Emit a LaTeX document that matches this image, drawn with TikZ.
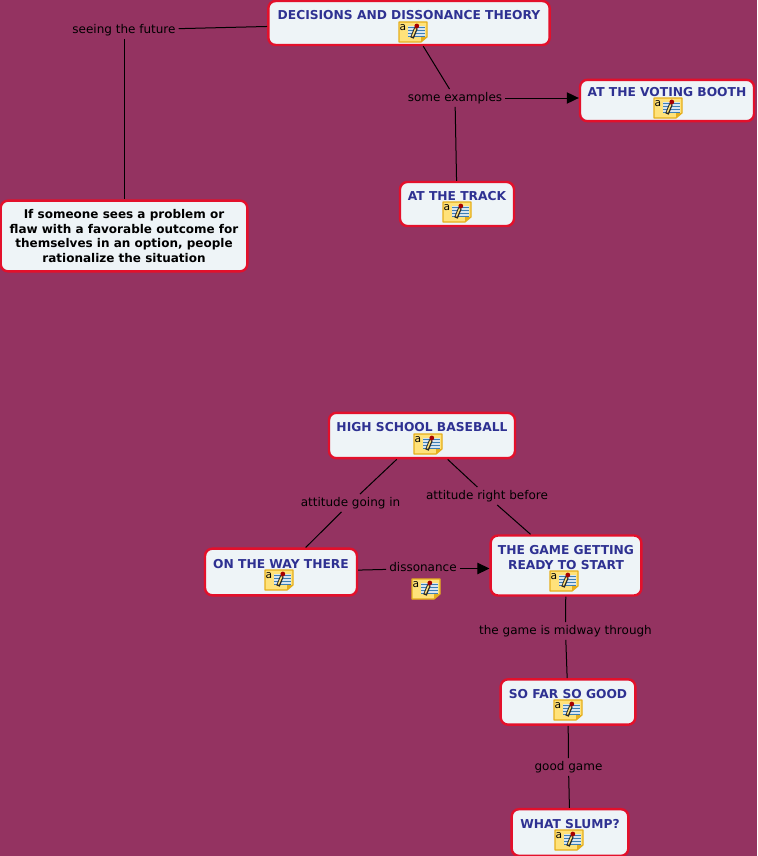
\documentclass[tikz,border=0pt]{standalone}
\usepackage{fontspec}
\setmainfont{DejaVu Sans}
\usetikzlibrary{arrows.meta}
\definecolor{bgc}{HTML}{943361}
\definecolor{boxfill}{HTML}{EEF4F7}
\definecolor{boxline}{HTML}{E3102B}
\definecolor{titlec}{HTML}{2E3192}
\definecolor{noteY}{HTML}{FFE27A}
\definecolor{noteE}{HTML}{E5AE1C}
\definecolor{noteB}{HTML}{3D7FB5}
\newcommand{\iconline}{\\[-1pt]\rule{0pt}{12pt}}
\tikzset{
  x=0.75pt,y=-0.75pt,
  concept/.style={draw=boxline,fill=boxfill,line width=1.8pt,rounded corners=5.5pt,align=center,inner sep=0pt,font=\bfseries\fontsize{9.2}{10.9}\selectfont},
  title/.style={concept,text=titlec},
  plain/.style={concept,text=black,font=\bfseries\fontsize{9}{10.9}\selectfont},
  link/.style={inner sep=2.2pt,text=black,font=\fontsize{9}{10}\selectfont,text height=6.8pt,text depth=1.8pt},
  conn/.style={draw=black,line width=0.75pt},
  arrow/.style={conn,-{Triangle[length=9pt,width=8.5pt]}},
  note/.pic={
    \fill[noteY] (-14,-10) -- (14,-10) -- (14,5) -- (8,10) -- (-14,10) -- cycle;
    \fill[noteE] (14,5) -- (8,5) -- (8,10) -- cycle;
    \draw[noteE,line width=0.9pt,line join=round] (-14,-10) -- (14,-10) -- (14,5) -- (8,10) -- (-14,10) -- cycle;
    \fill[white!80!noteB] (-5,-6) rectangle (12,5);
    \foreach \yy in {-5,-2,1,4}{\draw[noteB,line width=0.7pt] (-5,\yy) -- (12,\yy);}
    \draw[black!85,line width=2.8pt] (-1,6) -- (3,-4);
    \draw[noteY,line width=1.1pt] (-0.7,4.5) -- (2.7,-3.5);
    \fill[red!65!black] (3.8,-6) circle (2.4);
    \node[inner sep=0pt,font=\fontsize{8}{8}\selectfont,text=black] at (-10,-4.5) {a};
  }
}
\begin{document}
\begin{tikzpicture}
\useasboundingbox (0,0) rectangle (757,856);
\fill[bgc] (0,0) rectangle (757,856);
% concepts
\node[title,minimum width=211pt,minimum height=33pt] (dec) at (409,23) {DECISIONS AND DISSONANCE THEORY\iconline};
\node[title,minimum width=130.5pt,minimum height=31pt] (vote) at (667,100.5) {AT THE VOTING BOOTH\iconline};
\node[title,minimum width=85.5pt,minimum height=33pt] (track) at (457,204) {AT THE TRACK\iconline};
\node[plain,minimum width=185pt,minimum height=53pt] (flaw) at (124,236) {If someone sees a problem or\\flaw with a favorable outcome for\\themselves in an option, people\\rationalize the situation};
\node[title,minimum width=139.5pt,minimum height=34pt] (hs) at (422,435.5) {HIGH SCHOOL BASEBALL\iconline};
\node[title,minimum width=114pt,minimum height=35pt] (way) at (281,572) {ON THE WAY THERE\iconline};
\node[title,minimum width=113pt,minimum height=45pt] (game) at (566,565.5) {THE GAME GETTING\\READY TO START\iconline};
\node[title,minimum width=101pt,minimum height=34pt] (sofar) at (568,702) {SO FAR SO GOOD\iconline};
\node[title,minimum width=87.5pt,minimum height=35pt] (slump) at (570,832.5) {WHAT SLUMP?\iconline};
% linking phrases
\node[link] (seeing) at (124,30) {seeing the future};
\node[link] (examples) at (455,98) {some examples};
\node[link] (going) at (350.5,503) {attitude going in};
\node[link] (before) at (487,496) {attitude right before};
\node[link] (diss) at (423,568.5) {dissonance};
\node[link] (midway) at (565.5,631) {the game is midway through};
\node[link] (goodg) at (568.5,767) {good game};
% connectors
\draw[conn] (dec) -- (seeing);
\draw[conn] (seeing) -- (flaw);
\draw[conn] (dec) -- (examples);
\draw[arrow] (examples) -- (examples -| vote.west);
\draw[conn] (examples) -- (track);
\draw[conn] (hs) -- (going);
\draw[conn] (going) -- (way);
\draw[conn] (hs) -- (before);
\draw[conn] (before) -- (game);
\draw[conn] (way) -- (diss);
\draw[arrow] (diss) -- (diss -| game.west);
\draw[conn] (game) -- (midway);
\draw[conn] (midway) -- (sofar);
\draw[conn] (sofar) -- (goodg);
\draw[conn] (goodg) -- (slump);
% note icons
\pic at (413,32) {note};
\pic at (668,108) {note};
\pic at (457,212) {note};
\pic at (428,444) {note};
\pic at (279,580) {note};
\pic at (426,589) {note};
\pic at (564,581) {note};
\pic at (568,710) {note};
\pic at (569,840) {note};
\end{tikzpicture}
\end{document}
